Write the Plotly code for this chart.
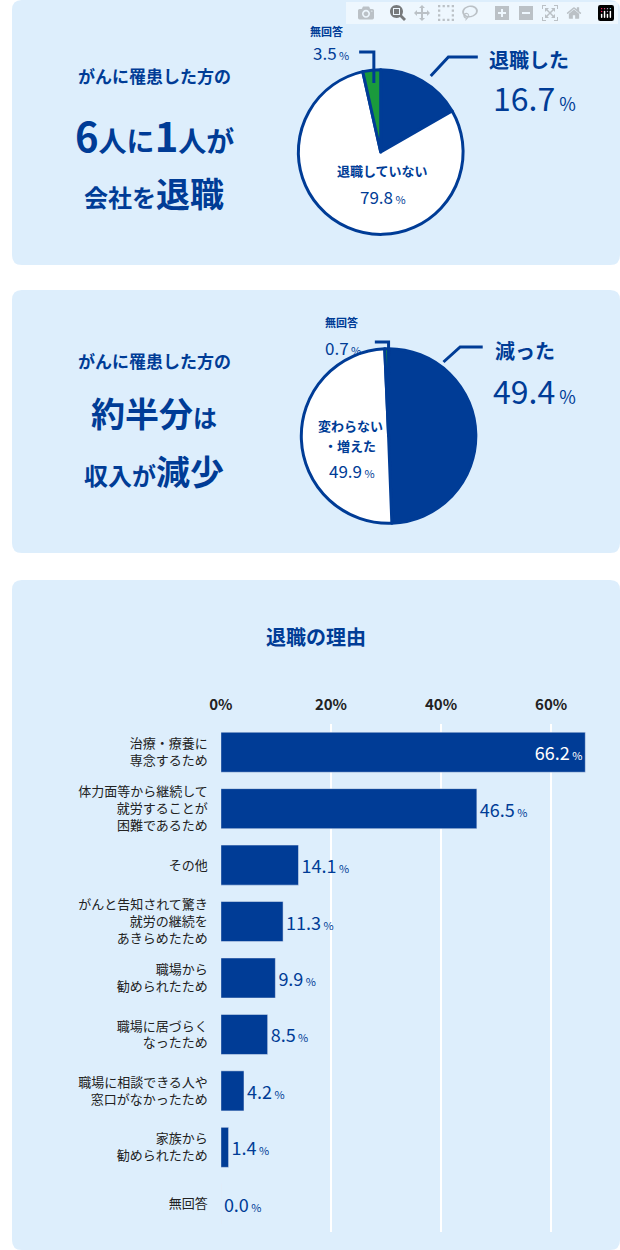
import plotly.graph_objects as go

BLUE = "#003c96"
GREEN = "#1a9a3c"
PANEL = "#ddeefc"
FONT = "Noto Sans CJK JP"
W, H = 620, 1250

pie1_labels = ["退職した", "退職していない", "無回答"]
pie1_values = [16.7, 79.8, 3.5]
pie2_labels = ["減った", "変わらない・増えた", "無回答"]
pie2_values = [49.4, 49.9, 0.7]
pie_colors = [BLUE, "white", GREEN]

reasons = ["治療・療養に<br>専念するため", "体力面等から継続して<br>就労することが<br>困難であるため", "その他",
           "がんと告知されて驚き<br>就労の継続を<br>あきらめたため", "職場から<br>勧められたため",
           "職場に居づらく<br>なったため", "職場に相談できる人や<br>窓口がなかったため",
           "家族から<br>勧められたため", "無回答"]
reason_values = [66.2, 46.5, 14.1, 11.3, 9.9, 8.5, 4.2, 1.4, 0.0]
x_ticks = [0, 20, 40, 60]

def px(x): return x / W
def py(y): return 1 - y / H

fig = go.Figure()

def pie_domain(cx, cy, r):
    return dict(x=[px(cx - r), px(cx + r)], y=[py(cy + r), py(cy - r)])

fig.add_trace(go.Pie(labels=pie1_labels, values=pie1_values, sort=False, direction="clockwise",
                     rotation=0, marker=dict(colors=pie_colors, line=dict(color=BLUE, width=3)),
                     textinfo="none", hoverinfo="skip", showlegend=False,
                     domain=pie_domain(376, 152, 84)))
fig.add_trace(go.Pie(labels=pie2_labels, values=pie2_values, sort=False, direction="clockwise",
                     rotation=0, marker=dict(colors=pie_colors, line=dict(color=BLUE, width=3)),
                     textinfo="none", hoverinfo="skip", showlegend=False,
                     domain=pie_domain(384, 436, 89)))

pct = lambda v: f"{v:.1f}<span style='font-size:11px'> %</span>"
text_pos = ["inside" if v > 50 else "outside" for v in reason_values]
text_col = ["white" if v > 50 else BLUE for v in reason_values]
fig.add_trace(go.Bar(y=reasons, x=reason_values, orientation="h", marker=dict(color=BLUE),
                     text=[pct(v) for v in reason_values], textposition=text_pos,
                     insidetextanchor="end", textfont=dict(size=18, color=text_col, family=FONT),
                     cliponaxis=False, showlegend=False, hoverinfo="skip"))

fig.update_layout(
    width=W, height=H, margin=dict(l=0, r=0, t=0, b=0),
    paper_bgcolor="white", plot_bgcolor="rgba(0,0,0,0)",
    font=dict(family=FONT, color="#222"),
    bargap=0.29,
    xaxis=dict(domain=[px(213), 1], range=[0, 72.5], side="top", tickvals=x_ticks,
               ticktext=[f"<b>{t}%</b>" for t in x_ticks], showgrid=True, gridcolor="white", gridwidth=2,
               zeroline=False, tickfont=dict(size=15, color="#222"), ticks="", ticklabelstandoff=10),
    yaxis=dict(domain=[py(1232), py(724)], autorange="reversed", showgrid=False,
               tickfont=dict(size=13, color="#222"), ticks="", ticklabelstandoff=12),
)

def _conv(path):
    out = []
    for t in path.split():
        if "," in t:
            a, b = t.split(",")
            out.append(f"{px(float(a)):.5f},{py(float(b)):.5f}")
        else:
            out.append(t)
    return " ".join(out)

def panel(x0, y0, x1, y1, r=10):
    path = (f"M {x0+r},{y0} L {x1-r},{y0} Q {x1},{y0} {x1},{y0+r} L {x1},{y1-r} Q {x1},{y1} {x1-r},{y1} "
            f"L {x0+r},{y1} Q {x0},{y1} {x0},{y1-r} L {x0},{y0+r} Q {x0},{y0} {x0+r},{y0} Z")
    return dict(type="path", xref="paper", yref="paper", layer="below", line=dict(width=0),
                fillcolor=PANEL, path=_conv(path))

shapes = [panel(0, 0, 620, 265), panel(0, 290, 620, 553), panel(0, 580, 620, 1250)]

def polyline(pts):
    d = "M " + " L ".join(f"{px(x):.5f},{py(y):.5f}" for x, y in pts)
    return dict(type="path", xref="paper", yref="paper", path=d, line=dict(color=BLUE, width=3))

shapes += [polyline([(427, 76), (445, 57), (475, 57)]),
           polyline([(369, 83), (369, 52), (354, 52)]),
           polyline([(384, 356), (384, 342), (370, 342)]),
           polyline([(440, 362), (457, 347), (480, 347)])]
fig.update_layout(shapes=shapes)

def ann(x, y, text, size, color=BLUE, bold=True, xanchor="center"):
    fig.add_annotation(x=px(x), y=py(y), xref="paper", yref="paper", text=(f"<b>{text}</b>" if bold else text),
                       showarrow=False, font=dict(size=size, color=color, family=FONT), xanchor=xanchor, yanchor="middle")

big = lambda t, s: f"<span style='font-size:{s}px'>{t}</span>"
ann(145, 75, "がんに罹患した方の", 17)
ann(145, 135, big("6", 40) + "人に" + big("1", 40) + "人が", 28)
ann(145, 193, "会社を" + big("退職", 34), 24)
ann(145, 360, "がんに罹患した方の", 17)
ann(145, 412, "約半分" + big("は", 24), 34)
ann(145, 470, "収入が" + big("減少", 34), 24)

ann(321, 31, "無回答", 11)
ann(325, 53, "3.5<span style='font-size:11px'> %</span>", 17, bold=False)
ann(484, 59, "退職した", 20, xanchor="left")
ann(488, 97, "16.7<span style='font-size:18px'> %</span>", 32, bold=False, xanchor="left")
ann(378, 170, "退職していない", 13)
ann(378, 196, "79.8<span style='font-size:11px'> %</span>", 17, bold=False)

ann(336, 322, "無回答", 11)
ann(338, 347, "0.7<span style='font-size:11px'> %</span>", 17, bold=False)
ann(490, 350, "減った", 20, xanchor="left")
ann(488, 390, "49.4<span style='font-size:18px'> %</span>", 32, bold=False, xanchor="left")
ann(345, 425, "変わらない", 13)
ann(345, 445, "・増えた", 13)
ann(347, 470, "49.9<span style='font-size:11px'> %</span>", 17, bold=False)

ann(310, 636, "退職の理由", 20)

fig.write_html("out.html")
with open("out.html", encoding="utf-8") as f:
    html = f.read()
html = html.replace("<head>", "<head><style>html,body{margin:0;padding:0;}</style>", 1)
with open("out.html", "w", encoding="utf-8") as f:
    f.write(html)
